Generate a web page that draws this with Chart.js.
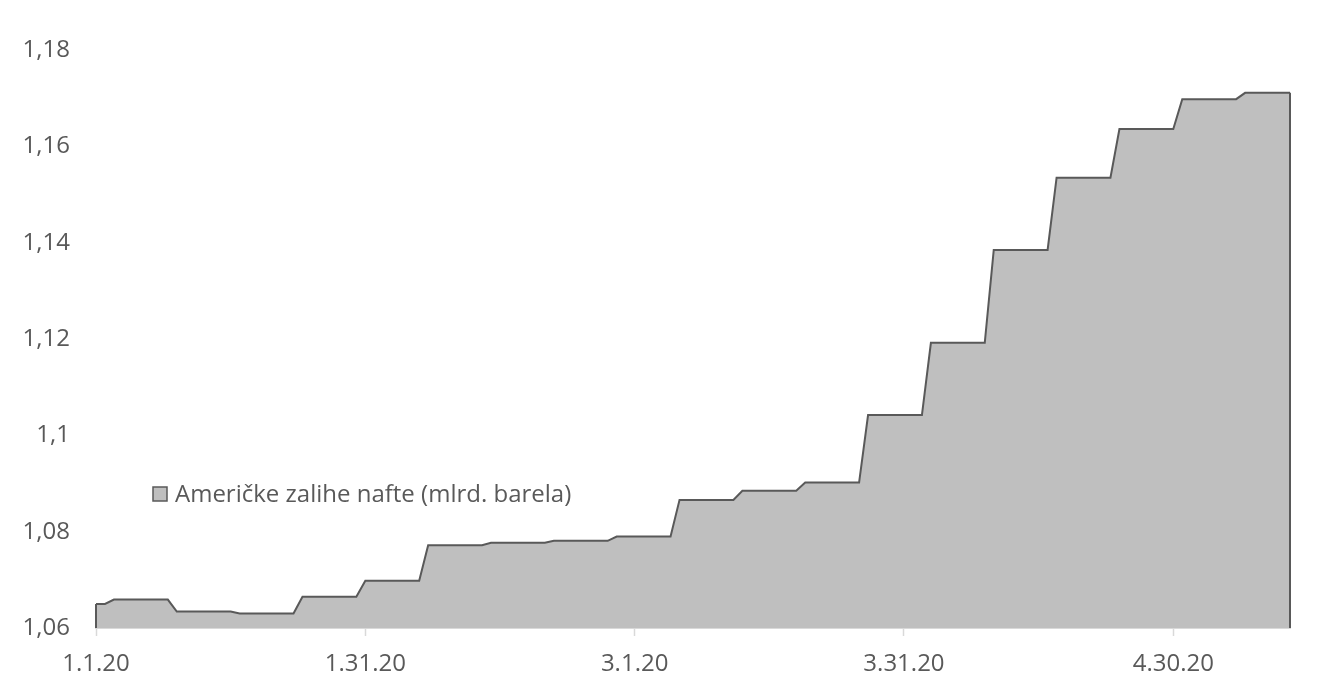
<!DOCTYPE html>
<html><head><meta charset="utf-8">
<script src="https://cdn.jsdelivr.net/npm/chart.js@4.4.1/dist/chart.umd.min.js"></script>
<style>html,body{margin:0;padding:0;background:#fff;} #wrap{width:1322px;height:688px;position:relative;}</style>
</head><body><div id="wrap"><canvas id="c"></canvas></div>
<script>
const dates = [
"1.1.20","1.2.20","1.3.20","1.4.20","1.5.20","1.6.20","1.7.20","1.8.20","1.9.20","1.10.20","1.11.20","1.12.20","1.13.20","1.14.20","1.15.20","1.16.20","1.17.20","1.18.20","1.19.20","1.20.20","1.21.20","1.22.20","1.23.20","1.24.20","1.25.20","1.26.20","1.27.20","1.28.20","1.29.20","1.30.20","1.31.20",
"2.1.20","2.2.20","2.3.20","2.4.20","2.5.20","2.6.20","2.7.20","2.8.20","2.9.20","2.10.20","2.11.20","2.12.20","2.13.20","2.14.20","2.15.20","2.16.20","2.17.20","2.18.20","2.19.20","2.20.20","2.21.20","2.22.20","2.23.20","2.24.20","2.25.20","2.26.20","2.27.20","2.28.20","2.29.20",
"3.1.20","3.2.20","3.3.20","3.4.20","3.5.20","3.6.20","3.7.20","3.8.20","3.9.20","3.10.20","3.11.20","3.12.20","3.13.20","3.14.20","3.15.20","3.16.20","3.17.20","3.18.20","3.19.20","3.20.20","3.21.20","3.22.20","3.23.20","3.24.20","3.25.20","3.26.20","3.27.20","3.28.20","3.29.20","3.30.20","3.31.20",
"4.1.20","4.2.20","4.3.20","4.4.20","4.5.20","4.6.20","4.7.20","4.8.20","4.9.20","4.10.20","4.11.20","4.12.20","4.13.20","4.14.20","4.15.20","4.16.20","4.17.20","4.18.20","4.19.20","4.20.20","4.21.20","4.22.20","4.23.20","4.24.20","4.25.20","4.26.20","4.27.20","4.28.20","4.29.20","4.30.20",
"5.1.20","5.2.20","5.3.20","5.4.20","5.5.20","5.6.20","5.7.20","5.8.20","5.9.20","5.10.20","5.11.20","5.12.20","5.13.20"
];
const stocks = [
1.0650,1.0650,
1.0659,1.0659,1.0659,1.0659,1.0659,1.0659,1.0659,
1.0634,1.0634,1.0634,1.0634,1.0634,1.0634,1.0634,
1.0630,1.0630,1.0630,1.0630,1.0630,1.0630,1.0630,
1.0665,1.0665,1.0665,1.0665,1.0665,1.0665,1.0665,
1.0698,1.0698,1.0698,1.0698,1.0698,1.0698,1.0698,
1.0772,1.0772,1.0772,1.0772,1.0772,1.0772,1.0772,
1.0777,1.0777,1.0777,1.0777,1.0777,1.0777,1.0777,
1.0781,1.0781,1.0781,1.0781,1.0781,1.0781,1.0781,
1.0790,1.0790,1.0790,1.0790,1.0790,1.0790,1.0790,
1.0866,1.0866,1.0866,1.0866,1.0866,1.0866,1.0866,
1.0885,1.0885,1.0885,1.0885,1.0885,1.0885,1.0885,
1.0902,1.0902,1.0902,1.0902,1.0902,1.0902,1.0902,
1.1042,1.1042,1.1042,1.1042,1.1042,1.1042,1.1042,
1.1192,1.1192,1.1192,1.1192,1.1192,1.1192,1.1192,
1.1385,1.1385,1.1385,1.1385,1.1385,1.1385,1.1385,
1.1535,1.1535,1.1535,1.1535,1.1535,1.1535,1.1535,
1.1636,1.1636,1.1636,1.1636,1.1636,1.1636,1.1636,
1.1698,1.1698,1.1698,1.1698,1.1698,1.1698,1.1698,
1.1711,1.1711,1.1711,1.1711,1.1711,1.1711
];
const tickLabels = ["1.1.20","1.31.20","3.1.20","3.31.20","4.30.20"];
const yTicks = [1.06, 1.08, 1.10, 1.12, 1.14, 1.16, 1.18];
const seriesName = "Američke zalihe nafte (mlrd. barela)";

const FONT = '"Open Sans", "Liberation Sans", sans-serif';
const TXT = '#595959';

const edgePlugin = {
  id: 'edges',
  afterDatasetsDraw(chart) {
    const meta = chart.getDatasetMeta(0);
    const pts = meta.data;
    const ctx = chart.ctx;
    const bottom = chart.chartArea.bottom;
    ctx.save();
    ctx.strokeStyle = chart.data.datasets[0].borderColor;
    ctx.lineWidth = 2;
    [pts[0], pts[pts.length - 1]].forEach(p => {
      ctx.beginPath(); ctx.moveTo(p.x, p.y); ctx.lineTo(p.x, bottom); ctx.stroke();
    });
    ctx.restore();
  }
};

const legendPlugin = {
  id: 'insideLegend',
  afterDraw(chart) {
    const ds = chart.data.datasets[0];
    const ctx = chart.ctx;
    ctx.save();
    ctx.fillStyle = ds.backgroundColor;
    ctx.fillRect(153, 487, 14, 14);
    ctx.strokeStyle = ds.borderColor;
    ctx.lineWidth = 1.5;
    ctx.strokeRect(153, 487, 14, 14);
    ctx.font = '24px ' + FONT;
    ctx.fillStyle = TXT;
    ctx.textBaseline = 'middle';
    ctx.fillText(ds.label, 175, 495);
    ctx.restore();
  }
};

function build() {
  new Chart(document.getElementById('c'), {
    type: 'line',
    data: {
      labels: dates,
      datasets: [{
        label: seriesName,
        data: stocks,
        borderColor: '#595959',
        backgroundColor: '#bfbfbf',
        borderWidth: 2,
        fill: 'start',
        tension: 0,
        pointRadius: 0,
        pointHoverRadius: 0
      }]
    },
    options: {
      responsive: true,
      maintainAspectRatio: false,
      animation: false,
      layout: { padding: { top: 50, right: 32, left: 0, bottom: 0 } },
      plugins: { legend: { display: false }, tooltip: { enabled: false } },
      scales: {
        x: {
          z: 1,
          offset: false,
          grid: {
            display: true,
            drawOnChartArea: false,
            drawTicks: true,
            tickLength: 8,
            tickWidth: 1.5,
            tickColor: (c) => (c.tick && tickLabels.includes(dates[c.index])) ? '#d9d9d9' : 'rgba(0,0,0,0)'
          },
          border: { display: true, color: '#d9d9d9', width: 2 },
          ticks: {
            autoSkip: false,
            maxRotation: 0,
            minRotation: 0,
            padding: 14,
            color: TXT,
            font: { family: FONT, size: 24 },
            callback: function (v, i) { const l = dates[i]; return tickLabels.includes(l) ? l : ''; }
          },
          afterFit: (s) => { s.height = 60; }
        },
        y: {
          min: yTicks[0],
          max: yTicks[yTicks.length - 1],
          grid: { display: false, drawTicks: false },
          border: { display: false },
          afterBuildTicks: (s) => { s.ticks = yTicks.map(v => ({ value: v })); },
          ticks: {
            padding: 26,
            color: TXT,
            font: { family: FONT, size: 24 },
            callback: (v) => (Math.round(v * 100) / 100).toString().replace('.', ',')
          },
          afterFit: (s) => { s.width = 96; }
        }
      }
    },
    plugins: [edgePlugin, legendPlugin]
  });
}
if (document.fonts && document.fonts.load) {
  document.fonts.load('24px "Open Sans"').then(build, build);
} else { build(); }
</script>
</body></html>
